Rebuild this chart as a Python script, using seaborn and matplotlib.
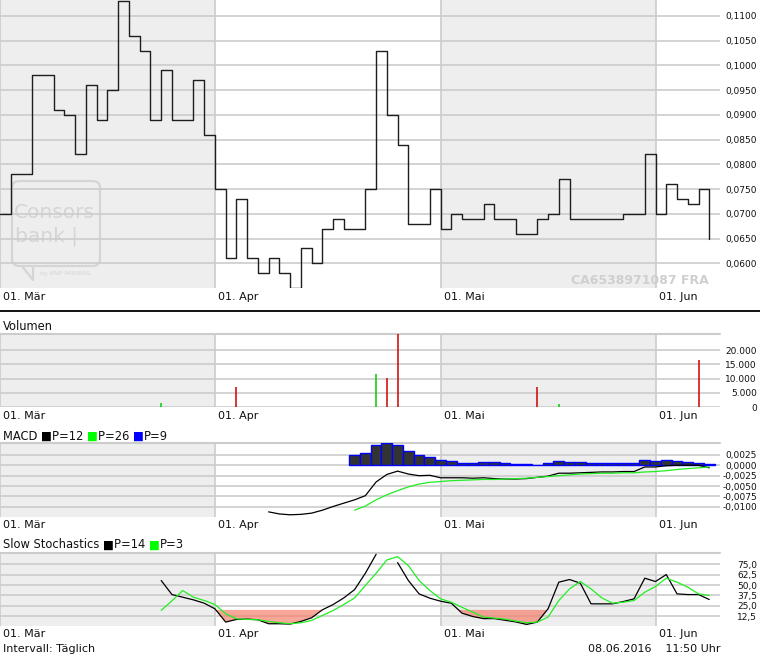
import numpy as np
import matplotlib
matplotlib.use("Agg")
import matplotlib.pyplot as plt
import matplotlib.transforms as mtransforms
from matplotlib.lines import Line2D
from matplotlib.patches import FancyBboxPatch
import seaborn as sns

# ---- data (one value per trading day, 01. Mär .. 06. Jun) ----
price = [0.070, 0.078, 0.078, 0.098, 0.098, 0.091, 0.090, 0.082, 0.096, 0.089,
         0.095, 0.113, 0.106, 0.103, 0.089, 0.099, 0.089, 0.089, 0.097, 0.086,
         0.075, 0.061, 0.073, 0.061, 0.058, 0.061, 0.058, 0.055, 0.063, 0.060,
         0.067, 0.069, 0.067, 0.067, 0.075, 0.103, 0.090, 0.084, 0.068, 0.068,
         0.075,
         0.067, 0.070, 0.069, 0.069, 0.072, 0.069, 0.069, 0.066, 0.066, 0.069,
         0.070, 0.077, 0.069, 0.069, 0.069, 0.069, 0.069, 0.070, 0.070, 0.082,
         0.070, 0.076, 0.073, 0.072, 0.075, 0.065]
days = list(range(len(price)))

month_start = [0, 20, 41, 61]
month_labels = ["01. Mär", "01. Apr", "01. Mai", "01. Jun"]

vol_day = [15, 22, 35, 36, 37, 50, 52, 65]
vol_value = [1400, 7000, 11600, 10200, 26000, 7000, 1200, 16500]
vol_dir = ["up", "down", "up", "down", "down", "down", "up", "down"]

macd_first = 25
macd = [-0.0112, -0.0117, -0.0119, -0.0118, -0.0115, -0.0108, -0.0099, -0.0091, -0.0083, -0.0073,
        -0.0040, -0.0022, -0.0014, -0.0021, -0.0025, -0.0024, -0.0030, -0.0030, -0.0030, -0.0031,
        -0.0030, -0.0032, -0.0033, -0.0033, -0.0032, -0.0029, -0.0026, -0.0019, -0.0019, -0.0018,
        -0.0017, -0.0016, -0.0016, -0.0015, -0.0015, -0.0004, -0.0004, -0.0001, 0.0000, 0.0000,
        0.0000, -0.0006]
signal_first = 33
signal = [-0.0108, -0.0098, -0.0083, -0.0071, -0.0061, -0.0052, -0.0045, -0.0041, -0.0039, -0.0037,
          -0.0036, -0.0035, -0.0034, -0.0034, -0.0033, -0.0032, -0.0031, -0.0029, -0.0027, -0.0025,
          -0.0023, -0.0021, -0.0020, -0.0019, -0.0019, -0.0018, -0.0018, -0.0016, -0.0015, -0.0013,
          -0.0010, -0.0008, -0.0006, -0.0004]
hist = [0.0024, 0.0029, 0.0050, 0.0053, 0.0048, 0.0034, 0.0024, 0.0021, 0.0012, 0.0010,
        0.0006, 0.0005, 0.0007, 0.0007, 0.0005, 0.0004, 0.0002, 0.0001, 0.0005, 0.0010,
        0.0008, 0.0008, 0.0006, 0.0006, 0.0006, 0.0006, 0.0006, 0.0012, 0.0010, 0.0013,
        0.0010, 0.0007, 0.0005, 0.0002]

stoch_first = 15
stoch_k = [55.4, 38.5, 35.3, 32.1, 28.1, 21.3, 5.3, 8.5, 8.9, 8.1,
           3.3, 3.3, 2.9, 6.1, 10.5, 20.1, 26.5, 34.5, 44.5, 64.2,
           87.0, np.nan, 77.0, 55.4, 39.3, 34.1, 30.5, 28.0, 16.0, 12.0,
           9.5, 9.5, 7.5, 5.5, 2.5, 5.3, 21.3, 53.4, 56.6, 52.2,
           27.3, 27.3, 27.3, 30.1, 33.3, 58.2, 54.2, 62.6, 39.3, 38.5,
           38.5, 32.5]
stoch_d = [19.3, 31.0, 43.3, 35.3, 31.3, 26.5, 15.3, 9.3, 8.5, 8.1,
           6.1, 4.5, 3.3, 4.5, 7.3, 13.3, 19.3, 26.5, 34.5, 49.4,
           64.2, 80.2, 84.2, 73.4, 55.4, 43.3, 33.3, 29.3, 23.0, 17.3,
           11.3, 10.1, 8.9, 6.5, 4.5, 5.3, 11.3, 31.3, 45.3, 54.2,
           45.3, 34.5, 28.1, 29.3, 31.3, 41.3, 48.2, 58.2, 53.4, 47.4,
           39.3, 37.3]

# ---- style ----
sns.set_style("white")
plt.rcParams['font.family'] = ['DejaVu Sans']

W, H = 760, 657
GRID = '#CCCCCC'
SHADE = '#EEEEEE'
LIME = '#22EE22'
fig = plt.figure(figsize=(W / 100, H / 100), dpi=100)


def rect(x0, y0, x1, y1):
    return [x0 / W, 1 - y1 / H, (x1 - x0) / W, (y1 - y0) / H]


def fx(x, y):
    return x / W, 1 - y / H


def decorate(ax, ylim, yticks, fmt, top_line=True):
    ax.set_xlim(0, 67)
    ax.set_ylim(*ylim)
    bounds = month_start + [67]
    for k in range(0, len(month_start), 2):
        ax.axvspan(bounds[k], bounds[k + 1], color=SHADE, lw=0, zorder=0.2)
    for m in month_start:
        ax.axvline(m, color=GRID, lw=1.2, zorder=0.6)
    ax.set_axisbelow(True)
    ax.yaxis.grid(True, color=GRID, lw=1.2)
    ax.xaxis.grid(False)
    if top_line:
        ax.axhline(ylim[1], color=GRID, lw=1.5, clip_on=False, zorder=0.6)
    for s in ax.spines.values():
        s.set_visible(False)
    ax.yaxis.tick_right()
    ax.set_yticks(yticks)
    ax.set_yticklabels([fmt(v) for v in yticks])
    ax.tick_params(axis='y', length=0, pad=26.6, labelsize=6.5, labelcolor='#111111')
    for lab in ax.get_yticklabels():
        lab.set_ha('right')
    ax.set_xticks(month_start)
    ax.set_xticklabels(month_labels)
    ax.tick_params(axis='x', length=0, pad=2.5, labelsize=8, labelcolor='#111111')
    off = mtransforms.ScaledTranslation(3 / 100, 0, fig.dpi_scale_trans)
    for lab in ax.get_xticklabels():
        lab.set_ha('left')
        lab.set_transform(lab.get_transform() + off)
    ax.set_xlabel('')
    ax.set_ylabel('')


def title_parts(ax, x, y, parts):
    prev = ax.text(*fx(x, y), parts[0][0], color=parts[0][1], fontsize=8.3,
                   va='center', ha='left', transform=fig.transFigure)
    for txt, col in parts[1:]:
        prev = ax.annotate(txt, xy=(1, 0), xycoords=prev, va='bottom', ha='left',
                           color=col, fontsize=8.3, annotation_clip=False)


# ---- price panel ----
ax_p = fig.add_axes(rect(0, 0, 720, 288.3))
sns.lineplot(x=days, y=price, ax=ax_p, drawstyle='steps-post', color='#1E1E1E',
             lw=1.0, estimator=None, zorder=3)
decorate(ax_p, (0.05495, 0.11323), np.arange(0.060, 0.1101, 0.005),
         lambda v: f"{v:.4f}".replace('.', ','), top_line=False)

# watermark logo
logo_col = '#D5D5D5'
ax_p.add_patch(FancyBboxPatch(fx(12, 266), 88 / W, 85 / H,
                              boxstyle="round,pad=0,rounding_size=0.01",
                              transform=fig.transFigure, fill=False,
                              ec=logo_col, lw=1.6, zorder=0.4))
tail = Line2D([22 / W, 33 / W, 33 / W], [1 - 266 / H, 1 - 280 / H, 1 - 266 / H],
              transform=fig.transFigure, color=logo_col, lw=1.6, zorder=0.4)
ax_p.add_line(tail)
ax_p.text(*fx(14, 218), "Consors", fontsize=14.5, color=logo_col, va='baseline',
          transform=fig.transFigure, zorder=0.4)
ax_p.text(*fx(15, 241), "bank |", fontsize=14.5, color=logo_col, va='baseline',
          transform=fig.transFigure, zorder=0.4)
ax_p.text(*fx(40, 273), "by BNP PARIBAS", fontsize=4.5, color=logo_col, va='center',
          transform=fig.transFigure, zorder=0.4)
ax_p.text(*fx(709, 280), "CA6538971087 FRA", fontsize=9, fontweight='bold',
          color='#CFCFCF', ha='right', va='center', transform=fig.transFigure, zorder=0.4)

# separator
fig.add_artist(Line2D([0, 1], [1 - 311 / H] * 2, color='black', lw=1.3))

# ---- volume panel ----
ax_v = fig.add_axes(rect(0, 334, 720, 407.3))
vol_colors = ['#00CC00' if d == 'up' else '#CC0000' for d in vol_dir]
ax_v.vlines(vol_day, 0, vol_value, colors=vol_colors, lw=1.1, zorder=3)
decorate(ax_v, (0, 25600), [0, 5000, 10000, 15000, 20000],
         lambda v: f"{int(v):,}".replace(',', '.'))
fig.text(*fx(3, 326), "Volumen", fontsize=8.3, va='center', color='#111111')

# ---- MACD panel ----
ax_m = fig.add_axes(rect(0, 443.3, 720, 516.7))
hist_days = list(range(signal_first, signal_first + len(hist)))
ax_m.bar(hist_days, hist, width=1.0, color='#333333', edgecolor='#0000FF', lw=1.0, zorder=2)
sns.lineplot(x=list(range(macd_first, macd_first + len(macd))), y=macd, ax=ax_m,
             color='black', lw=0.9, estimator=None, zorder=3)
sns.lineplot(x=list(range(signal_first, signal_first + len(signal))), y=signal, ax=ax_m,
             color=LIME, lw=0.9, estimator=None, zorder=3)
decorate(ax_m, (-0.01236, 0.00529), [-0.01, -0.0075, -0.005, -0.0025, 0.0, 0.0025],
         lambda v: f"{v:.4f}".replace('.', ',').replace('-0,0000', '0,0000'))
title_parts(ax_m, 3, 436, [("MACD ", '#111111'), ("■", 'black'), ("P=12 ", '#111111'),
                           ("■", '#00FF00'), ("P=26 ", '#111111'), ("■", '#0000FF'),
                           ("P=9", '#111111')])

# ---- stochastics panel ----
ax_s = fig.add_axes(rect(0, 553.3, 720, 626))
sdays = np.arange(stoch_first, stoch_first + len(stoch_k))
k_arr = np.array(stoch_k)
ax_s.fill_between(sdays, k_arr, 20, where=k_arr < 20, interpolate=True,
                  color='#F47C68', alpha=0.68, lw=0, zorder=1)
ax_s.plot(sdays, k_arr, color='black', lw=0.9, zorder=3)
sns.lineplot(x=sdays, y=stoch_d, ax=ax_s, color=LIME, lw=0.9, estimator=None, zorder=3)
decorate(ax_s, (0.6, 88.2), [12.5, 25.0, 37.5, 50.0, 62.5, 75.0],
         lambda v: f"{v:.1f}".replace('.', ','))
title_parts(ax_s, 3, 545, [("Slow Stochastics ", '#111111'), ("■", 'black'),
                           ("P=14 ", '#111111'), ("■", '#00FF00'), ("P=3", '#111111')])

# ---- footer ----
fig.text(*fx(3, 649), "Intervall: Täglich", fontsize=8, va='center', color='#111111')
fig.text(*fx(720, 649), "08.06.2016    11:50 Uhr", fontsize=8, va='center', ha='right',
         color='#111111')

fig.savefig("out.png", dpi=100)
